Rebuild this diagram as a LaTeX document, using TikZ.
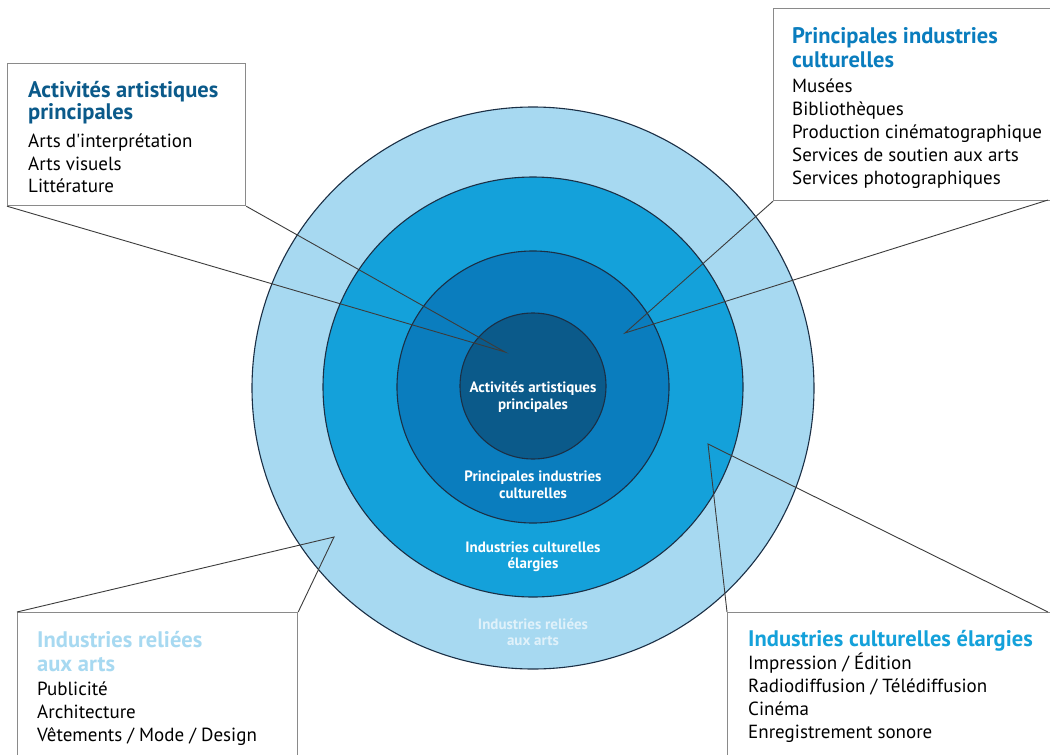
\documentclass[tikz,border=0pt]{standalone}
\usepackage{fontspec}
\setmainfont{PT Sans}
\usepackage{tikz}
\usepackage{xcolor}

\definecolor{artsblue}{HTML}{0B5A8A}
\definecolor{mainblue}{HTML}{0A7DBE}
\definecolor{widerblue}{HTML}{14A1DA}
\definecolor{relatedblue}{HTML}{A7D9F1}
\definecolor{rimnavy}{HTML}{1B2F45}
\definecolor{framegray}{HTML}{8A8A8A}
\definecolor{leadgray}{HTML}{3C3C3C}

\begin{document}
\begin{tikzpicture}[x=1pt,y=-1pt]
	\tikzstyle{ring} = [draw=rimnavy, line width=1.1pt]
	\tikzstyle{leader} = [draw=leadgray, line width=0.9pt]
	\tikzstyle{frame} = [draw=framegray, line width=1.2pt, fill=white, anchor=north west, inner sep=0pt]
	\tikzstyle{ringtext} = [text=white, font=\bfseries\fontsize{15}{16.5}\selectfont, align=center]
	\tikzstyle{boxtitle} = [anchor=base west, inner sep=0pt, font=\bfseries\fontsize{22.5}{22}\selectfont]
	\tikzstyle{item} = [anchor=base west, inner sep=0pt, font=\fontsize{19}{22}\selectfont]
	\clip (0,0) rectangle (1050,755);
	\fill[white] (0,0) rectangle (1050,755);
	% the four rings, outside in
	\filldraw[ring, fill=relatedblue] (533,388) circle (281pt);
	\filldraw[ring, fill=widerblue]   (533,387) circle (210pt);
	\filldraw[ring, fill=mainblue]    (533,387) circle (136pt);
	\filldraw[ring, fill=artsblue]    (533,386) circle (73pt);
		\node[ringtext] (core) at (533,397) {Activités artistiques\\principales};
		\node[ringtext] (main) at (533,485) {Principales industries\\culturelles};
		\node[ringtext] (wider) at (533,557) {Industries culturelles\\élargies};
		\node[ringtext, text opacity=0.65] (related) at (533,632) {Industries reliées\\aux arts};
	% callout boxes
		\node[frame, minimum width=238pt, minimum height=142pt] (artsbox) at (7,63) {};
		\node[frame, minimum width=285pt, minimum height=192pt] (mainbox) at (773,8) {};
		\node[frame, minimum width=280pt, minimum height=160pt] (relatedbox) at (17,612) {};
		\node[frame, minimum width=330pt, minimum height=160pt] (widerbox) at (727,612) {};
	\coordinate (artstip) at (505,352);
	\coordinate (maintip) at (625,333);
	\coordinate (relatedtip) at (334,537);
	\coordinate (widertip) at (708,444);
	\draw[leader] (artsbox.south west) -- (artstip) -- (artsbox.south east);
	\draw[leader] (mainbox.south west) -- (maintip) -- (1048,200);
	\draw[leader] (relatedbox.north west) -- (relatedtip) -- (relatedbox.north east);
	\draw[leader] (widerbox.north west) -- (widertip) -- (1048,612);
	% box texts
		\node[boxtitle, text=artsblue] (arts1) at (28,97) {Activités artistiques};
		\node[boxtitle, text=artsblue] (arts2) at (28,119) {principales};
		\node[item] (arts3) at (28,147) {Arts d\textquotesingle interprétation};
		\node[item] (arts4) at (28,170) {Arts visuels};
		\node[item] (arts5) at (28,192) {Littérature};
		\node[boxtitle, text=mainblue] (main1) at (792,43) {Principales industries};
		\node[boxtitle, text=mainblue] (main2) at (792,67) {culturelles};
		\node[item] (main3) at (792,92) {Musées};
		\node[item] (main4) at (792,115) {Bibliothèques};
		\node[item] (main5) at (792,138) {Production cinématographique};
		\node[item] (main6) at (792,161) {Services de soutien aux arts};
		\node[item] (main7) at (792,184) {Services photographiques};
		\node[boxtitle, text=relatedblue] (rel1) at (37,647) {Industries reliées};
		\node[boxtitle, text=relatedblue] (rel2) at (37,671) {aux arts};
		\node[item] (rel3) at (37,695) {Publicité};
		\node[item] (rel4) at (37,718) {Architecture};
		\node[item] (rel5) at (37,741) {Vêtements / Mode / Design};
		\node[boxtitle, text=widerblue] (wide1) at (748,646) {Industries culturelles élargies};
		\node[item] (wide2) at (748,669) {Impression / Édition};
		\node[item] (wide3) at (748,692) {Radiodiffusion / Télédiffusion};
		\node[item] (wide4) at (748,715) {Cinéma};
		\node[item] (wide5) at (748,738) {Enregistrement sonore};
	\end{tikzpicture}
\end{document}
